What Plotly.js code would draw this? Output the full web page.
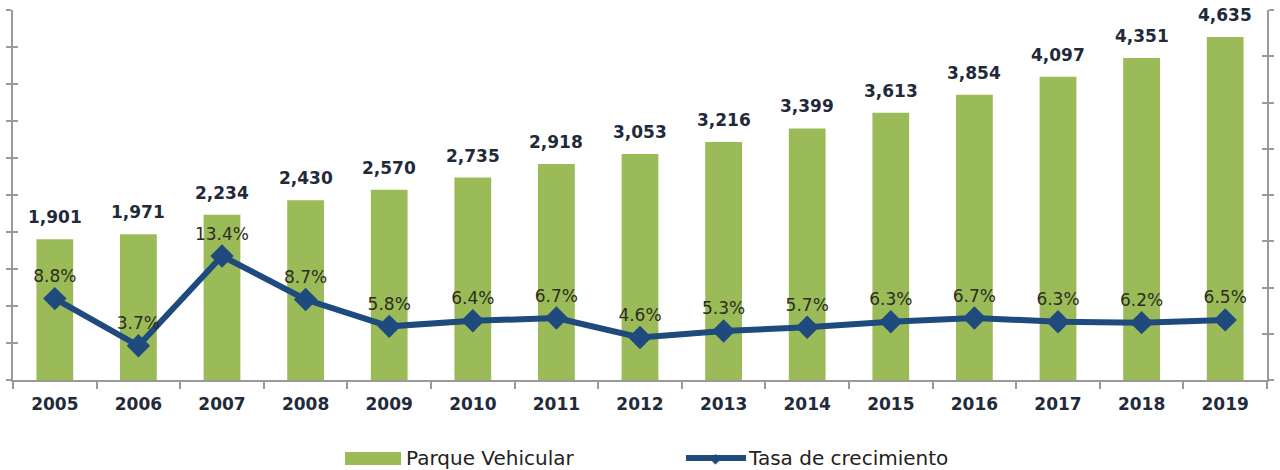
<!DOCTYPE html>
<html>
<head>
<meta charset="utf-8">
<script src="https://cdn.plot.ly/plotly-3.0.1.min.js"></script>
<style>html,body{margin:0;padding:0;background:#fff;}#chart{width:1280px;height:470px;}</style>
</head>
<body>
<div id="chart"></div>
<script>
const years = ['2005','2006','2007','2008','2009','2010','2011','2012','2013','2014','2015','2016','2017','2018','2019'];
const parqueVehicular = [1901,1971,2234,2430,2570,2735,2918,3053,3216,3399,3613,3854,4097,4351,4635];
const tasaCrecimiento = [8.8,3.7,13.4,8.7,5.8,6.4,6.7,4.6,5.3,5.7,6.3,6.7,6.3,6.2,6.5];
const seriesNames = ['Parque Vehicular', 'Tasa de crecimiento'];

const axisColor = '#9a9a9a';
const barColor = '#9bbb59';
const lineColor = '#1f4a7e';

const traces = [
  {
    type: 'bar', name: seriesNames[0], x: years, y: parqueVehicular,
    marker: {color: barColor},
    hoverinfo: 'x+y', showlegend: false
  },
  {
    type: 'scatter', mode: 'lines+markers+text', name: seriesNames[1],
    x: years, y: tasaCrecimiento, yaxis: 'y2',
    line: {color: lineColor, width: 6},
    marker: {symbol: 'diamond', size: 18, color: lineColor},
    text: tasaCrecimiento.map(v => v.toFixed(1) + '%'),
    textposition: 'top center', cliponaxis: false,
    textfont: {family: 'DejaVu Sans', size: 17, color: '#2b2b1f'},
    showlegend: false
  },
  // dummy invisible traces to activate the tick-only overlay axes
  {type: 'scatter', x: [years[0]], y: [0], yaxis: 'y3', mode: 'markers', marker: {opacity: 0}, showlegend: false, hoverinfo: 'skip'},
  {type: 'scatter', x: [years[0]], y: [0], yaxis: 'y4', mode: 'markers', marker: {opacity: 0}, showlegend: false, hoverinfo: 'skip'}
];

const legendFont = {family: 'DejaVu Sans', size: 20, color: '#222'};
// value labels above bars (category axis: x given as category index)
const barLabels = years.map((yr, i) => ({
  x: i, y: parqueVehicular[i], xref: 'x', yref: 'y',
  text: parqueVehicular[i].toLocaleString('en-US'),
  showarrow: false, yanchor: 'middle', yshift: 22,
  font: {family: 'DejaVu Sans', size: 17, color: '#1f2a3a', weight: 'bold'}
}));

const layout = {
  width: 1280, height: 470,
  margin: {l: 13, r: 13, t: 10, b: 90, autoexpand: false},
  paper_bgcolor: '#ffffff', plot_bgcolor: '#ffffff',
  showlegend: false,
  bargap: 0.56,
  font: {family: 'DejaVu Sans', color: '#222'},
  xaxis: {
    type: 'category', range: [-0.5, 14.5], autorange: false,
    showgrid: false, zeroline: false,
    showline: true, linecolor: axisColor, linewidth: 2,
    ticks: 'outside', tickson: 'boundaries', ticklen: 7, tickcolor: axisColor, tickwidth: 2,
    ticklabelstandoff: 8,
    tickfont: {family: 'DejaVu Sans', size: 17, color: '#1f2a3a', weight: 'bold'}
  },
  yaxis: {
    range: [0, 5000], dtick: 500, showgrid: false, zeroline: false,
    showline: true, linecolor: axisColor, linewidth: 2,
    ticks: 'outside', ticklen: 5, tickcolor: axisColor, tickwidth: 2,
    showticklabels: false
  },
  yaxis3: {
    range: [0, 5000], dtick: 500, overlaying: 'y', side: 'left',
    showgrid: false, zeroline: false, showline: false,
    ticks: 'inside', ticklen: 5, tickcolor: axisColor, tickwidth: 2,
    showticklabels: false
  },
  yaxis2: {
    range: [0, 40], dtick: 5, overlaying: 'y', side: 'right',
    showgrid: false, zeroline: false,
    showline: true, linecolor: axisColor, linewidth: 2,
    ticks: 'outside', ticklen: 5, tickcolor: axisColor, tickwidth: 2,
    showticklabels: false
  },
  yaxis4: {
    range: [0, 40], dtick: 5, overlaying: 'y', side: 'right',
    showgrid: false, zeroline: false, showline: false,
    ticks: 'inside', ticklen: 5, tickcolor: axisColor, tickwidth: 2,
    showticklabels: false
  },
  // custom legend (wide swatch + long line symbol as in the original)
  shapes: [
    {type: 'rect', xref: 'paper', yref: 'paper', x0: (345-13)/1254, x1: (401-13)/1254, y0: -(452-380)/370, y1: -(465-380)/370,
     fillcolor: barColor, line: {width: 0}},
    {type: 'line', xref: 'paper', yref: 'paper', x0: (686-13)/1254, x1: (746-13)/1254, y0: -(458-380)/370, y1: -(458-380)/370,
     line: {color: lineColor, width: 6}}
  ],
  annotations: barLabels.concat([
    {xref: 'paper', yref: 'paper', x: (404-13)/1254, y: -(458-380)/370, xanchor: 'left', yanchor: 'middle',
     text: seriesNames[0], showarrow: false, font: legendFont},
    {xref: 'paper', yref: 'paper', x: (746-13)/1254, y: -(458-380)/370, xanchor: 'left', yanchor: 'middle',
     text: seriesNames[1], showarrow: false, font: legendFont},
    {xref: 'paper', yref: 'paper', x: (716-13)/1254, y: -(458-380)/370, xanchor: 'center', yanchor: 'middle',
     text: '\u25C6', showarrow: false, font: {family: 'DejaVu Sans', size: 14, color: lineColor}}
  ])
};

Plotly.newPlot('chart', traces, layout, {displayModeBar: false, staticPlot: true});
</script>
</body>
</html>
